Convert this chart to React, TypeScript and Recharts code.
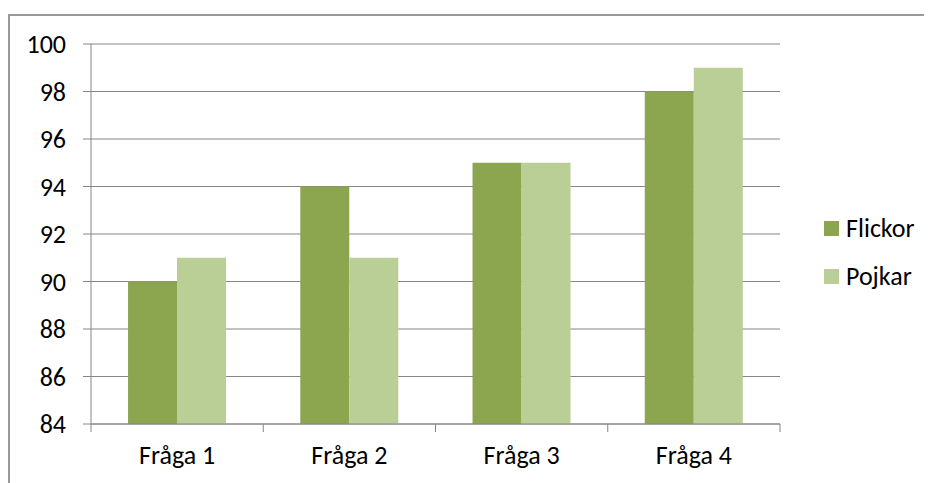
import { Bar, BarChart, CartesianGrid, Legend, XAxis, YAxis } from "recharts";

const categories = ["Fråga 1", "Fråga 2", "Fråga 3", "Fråga 4"];
const flickor = [90, 94, 95, 98];
const pojkar = [91, 91, 95, 99];
const yTicks = [84, 86, 88, 90, 92, 94, 96, 98, 100];

const FONT = "Calibri, Carlito, 'Open Sans', sans-serif";
const FS = 26;
const GRID = "#868686";
const DARK = "#8ba64e";
const LIGHT = "#b9cf96";

const data = categories.map((name, i) => ({ name, Flickor: flickor[i], Pojkar: pojkar[i] }));

// kategori-etikett i mitten, streck vid gränserna mellan kategorierna
function CategoryTick(props: any) {
  const { x, y, payload, index, visibleTicksCount } = props;
  const half = payload?.offset ?? 0;
  const top = y - 22;
  return (
    <g>
      <line x1={x - half} x2={x - half} y1={top} y2={top + 8} stroke={GRID} />
      {index === visibleTicksCount - 1 && (
        <line x1={x + half} x2={x + half} y1={top} y2={top + 8} stroke={GRID} />
      )}
      <text x={x} y={y} dy="0.71em" textAnchor="middle" fill="#000" fontSize={FS} fontFamily={FONT}>
        {payload.value}
      </text>
    </g>
  );
}

function LegendBox() {
  const items = [
    { label: "Flickor", color: DARK },
    { label: "Pojkar", color: LIGHT },
  ];
  return (
    <div style={{ fontFamily: FONT, fontSize: FS, color: "#000" }}>
      {items.map((it) => (
        <div key={it.label} style={{ display: "flex", alignItems: "center", height: 48 }}>
          <span style={{ width: 15, height: 15, background: it.color, marginRight: 7 }} />
          <span>{it.label}</span>
        </div>
      ))}
    </div>
  );
}

export default function App() {
  return (
    <div style={{ position: "relative", width: 924, height: 475 }}>
      <div
        style={{
          position: "absolute",
          left: 0,
          top: 6,
          width: 922,
          height: 467,
          borderLeft: "2px solid #9a9a9a",
          borderTop: "2px solid #9a9a9a",
        }}
      />
      <BarChart
        width={924}
        height={475}
        data={data}
        margin={{ top: 36, right: 152, bottom: 0, left: 0 }}
        barCategoryGap="21.5%"
        barGap={0}
        style={{ position: "relative" }}
      >
        <CartesianGrid vertical={false} stroke={GRID} />
        <XAxis
          dataKey="name"
          height={59}
          stroke={GRID}
          tickLine={false}
          tickSize={8}
          tickMargin={14}
          tick={<CategoryTick />}
          interval={0}
        />
        <YAxis
          width={83}
          domain={[84, 100]}
          ticks={yTicks}
          stroke={GRID}
          tickSize={8}
          tickMargin={17}
          tick={{ fill: "#000", fontSize: FS, fontFamily: FONT }}
        />
        <Legend
          layout="horizontal"
          verticalAlign="middle"
          align="center"
          wrapperStyle={{ left: 816, top: 196, width: 110 }}
          content={<LegendBox />}
        />
        <Bar dataKey="Flickor" fill={DARK} isAnimationActive={false} />
        <Bar dataKey="Pojkar" fill={LIGHT} isAnimationActive={false} />
      </BarChart>
    </div>
  );
}
